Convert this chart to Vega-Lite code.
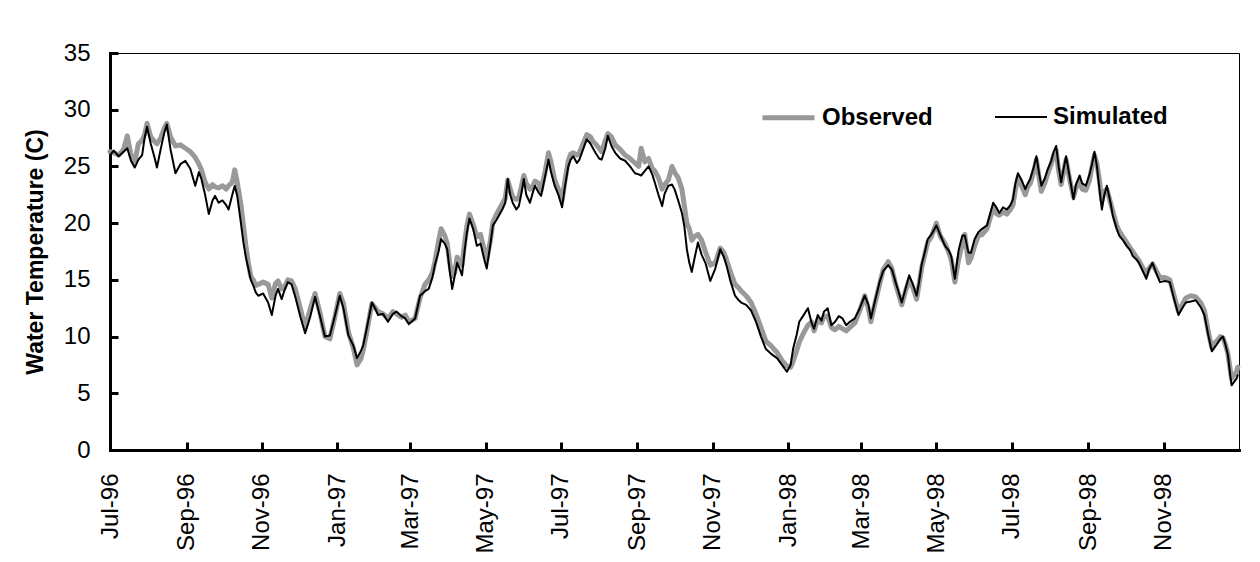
{
  "$schema": "https://vega.github.io/schema/vega-lite/v6.json",
  "width": 1129,
  "height": 397,
  "autosize": "none",
  "padding": {"left": 110, "top": 53, "right": 21, "bottom": 112},
  "background": "white",
  "config": {
    "font": "Liberation Sans",
    "view": {"stroke": "black", "strokeWidth": 1},
    "axis": {"grid": false, "domainColor": "black", "tickColor": "black", "labelColor": "black", "titleColor": "black", "domainCap": "square"}
  },
  "data": {"values": [
    {"d":"1996-07-01","Observed":26.3,"Simulated":26.0},
    {"d":"1996-07-04","Observed":26.2,"Simulated":26.4},
    {"d":"1996-07-08","Observed":26.0,"Simulated":25.9},
    {"d":"1996-07-12","Observed":26.5,"Simulated":26.3},
    {"d":"1996-07-15","Observed":27.7,"Simulated":26.6},
    {"d":"1996-07-18","Observed":26.0,"Simulated":25.5},
    {"d":"1996-07-21","Observed":25.4,"Simulated":24.9},
    {"d":"1996-07-24","Observed":27.0,"Simulated":25.6},
    {"d":"1996-07-27","Observed":27.3,"Simulated":26.0},
    {"d":"1996-07-29","Observed":27.8,"Simulated":27.5},
    {"d":"1996-07-31","Observed":28.8,"Simulated":28.5},
    {"d":"1996-08-03","Observed":27.6,"Simulated":27.0},
    {"d":"1996-08-06","Observed":27.2,"Simulated":25.8},
    {"d":"1996-08-08","Observed":27.0,"Simulated":24.9},
    {"d":"1996-08-11","Observed":27.5,"Simulated":26.5},
    {"d":"1996-08-14","Observed":28.4,"Simulated":28.0},
    {"d":"1996-08-16","Observed":28.8,"Simulated":28.7},
    {"d":"1996-08-19","Observed":27.6,"Simulated":26.5},
    {"d":"1996-08-23","Observed":26.8,"Simulated":24.4},
    {"d":"1996-08-27","Observed":26.9,"Simulated":25.2},
    {"d":"1996-08-31","Observed":26.6,"Simulated":25.5},
    {"d":"1996-09-04","Observed":26.3,"Simulated":24.8},
    {"d":"1996-09-08","Observed":25.8,"Simulated":23.3},
    {"d":"1996-09-11","Observed":25.2,"Simulated":24.5},
    {"d":"1996-09-13","Observed":24.7,"Simulated":23.9},
    {"d":"1996-09-16","Observed":23.6,"Simulated":22.5},
    {"d":"1996-09-19","Observed":23.0,"Simulated":20.8},
    {"d":"1996-09-22","Observed":23.4,"Simulated":22.0},
    {"d":"1996-09-24","Observed":23.2,"Simulated":22.4},
    {"d":"1996-09-27","Observed":23.1,"Simulated":21.8},
    {"d":"1996-09-30","Observed":23.3,"Simulated":22.0},
    {"d":"1996-10-03","Observed":23.0,"Simulated":21.6},
    {"d":"1996-10-05","Observed":23.3,"Simulated":21.2},
    {"d":"1996-10-08","Observed":23.6,"Simulated":22.5},
    {"d":"1996-10-10","Observed":24.7,"Simulated":23.3},
    {"d":"1996-10-12","Observed":23.6,"Simulated":22.4},
    {"d":"1996-10-15","Observed":21.6,"Simulated":20.0},
    {"d":"1996-10-17","Observed":19.8,"Simulated":18.3},
    {"d":"1996-10-19","Observed":18.0,"Simulated":17.0},
    {"d":"1996-10-21","Observed":16.5,"Simulated":16.0},
    {"d":"1996-10-23","Observed":15.3,"Simulated":15.0},
    {"d":"1996-10-25","Observed":15.0,"Simulated":14.5},
    {"d":"1996-10-27","Observed":14.5,"Simulated":13.9},
    {"d":"1996-10-29","Observed":14.6,"Simulated":13.6},
    {"d":"1996-11-02","Observed":14.8,"Simulated":13.8},
    {"d":"1996-11-06","Observed":14.6,"Simulated":13.0},
    {"d":"1996-11-09","Observed":13.4,"Simulated":11.9},
    {"d":"1996-11-12","Observed":14.7,"Simulated":13.6},
    {"d":"1996-11-14","Observed":14.9,"Simulated":14.2},
    {"d":"1996-11-17","Observed":14.2,"Simulated":13.3},
    {"d":"1996-11-19","Observed":14.3,"Simulated":14.0},
    {"d":"1996-11-22","Observed":15.0,"Simulated":14.8},
    {"d":"1996-11-25","Observed":14.9,"Simulated":14.6},
    {"d":"1996-11-28","Observed":14.2,"Simulated":13.5},
    {"d":"1996-12-02","Observed":12.5,"Simulated":11.8},
    {"d":"1996-12-06","Observed":10.8,"Simulated":10.3},
    {"d":"1996-12-10","Observed":12.4,"Simulated":11.7},
    {"d":"1996-12-14","Observed":13.8,"Simulated":13.5},
    {"d":"1996-12-18","Observed":12.1,"Simulated":11.8},
    {"d":"1996-12-22","Observed":10.0,"Simulated":10.0},
    {"d":"1996-12-26","Observed":9.8,"Simulated":10.1},
    {"d":"1996-12-30","Observed":11.7,"Simulated":11.8},
    {"d":"1997-01-03","Observed":13.8,"Simulated":13.6},
    {"d":"1997-01-06","Observed":12.9,"Simulated":12.5},
    {"d":"1997-01-10","Observed":10.4,"Simulated":10.1},
    {"d":"1997-01-14","Observed":9.0,"Simulated":9.2},
    {"d":"1997-01-17","Observed":7.5,"Simulated":8.1},
    {"d":"1997-01-20","Observed":8.0,"Simulated":8.7},
    {"d":"1997-01-22","Observed":8.8,"Simulated":9.2},
    {"d":"1997-01-25","Observed":10.5,"Simulated":10.8},
    {"d":"1997-01-29","Observed":12.9,"Simulated":13.0},
    {"d":"1997-02-01","Observed":12.5,"Simulated":12.4},
    {"d":"1997-02-03","Observed":12.2,"Simulated":11.9},
    {"d":"1997-02-07","Observed":12.0,"Simulated":12.0},
    {"d":"1997-02-11","Observed":11.6,"Simulated":11.3},
    {"d":"1997-02-15","Observed":12.2,"Simulated":12.0},
    {"d":"1997-02-18","Observed":12.0,"Simulated":12.2},
    {"d":"1997-02-22","Observed":11.7,"Simulated":11.8},
    {"d":"1997-02-25","Observed":11.9,"Simulated":11.6},
    {"d":"1997-02-28","Observed":11.3,"Simulated":11.1},
    {"d":"1997-03-05","Observed":11.6,"Simulated":11.6},
    {"d":"1997-03-09","Observed":13.4,"Simulated":13.6},
    {"d":"1997-03-13","Observed":14.6,"Simulated":14.0},
    {"d":"1997-03-16","Observed":15.0,"Simulated":14.2},
    {"d":"1997-03-19","Observed":15.6,"Simulated":15.2},
    {"d":"1997-03-21","Observed":16.6,"Simulated":16.3},
    {"d":"1997-03-24","Observed":18.4,"Simulated":17.5},
    {"d":"1997-03-26","Observed":19.5,"Simulated":18.6},
    {"d":"1997-03-29","Observed":18.9,"Simulated":18.2},
    {"d":"1997-03-31","Observed":18.2,"Simulated":17.7},
    {"d":"1997-04-02","Observed":16.5,"Simulated":15.8},
    {"d":"1997-04-04","Observed":15.3,"Simulated":14.2},
    {"d":"1997-04-06","Observed":15.6,"Simulated":15.3},
    {"d":"1997-04-08","Observed":17.0,"Simulated":16.5},
    {"d":"1997-04-10","Observed":16.6,"Simulated":16.0},
    {"d":"1997-04-12","Observed":16.3,"Simulated":15.4},
    {"d":"1997-04-14","Observed":18.2,"Simulated":17.5},
    {"d":"1997-04-16","Observed":19.8,"Simulated":19.2},
    {"d":"1997-04-18","Observed":20.8,"Simulated":20.4},
    {"d":"1997-04-21","Observed":19.9,"Simulated":19.5},
    {"d":"1997-04-24","Observed":18.8,"Simulated":18.0},
    {"d":"1997-04-27","Observed":19.0,"Simulated":18.2},
    {"d":"1997-04-30","Observed":17.6,"Simulated":16.8},
    {"d":"1997-05-02","Observed":16.8,"Simulated":16.0},
    {"d":"1997-05-05","Observed":18.5,"Simulated":18.2},
    {"d":"1997-05-07","Observed":20.1,"Simulated":19.8},
    {"d":"1997-05-10","Observed":20.8,"Simulated":20.3},
    {"d":"1997-05-13","Observed":21.4,"Simulated":20.9},
    {"d":"1997-05-15","Observed":21.8,"Simulated":21.3},
    {"d":"1997-05-17","Observed":22.2,"Simulated":21.8},
    {"d":"1997-05-19","Observed":23.8,"Simulated":23.9},
    {"d":"1997-05-21","Observed":23.0,"Simulated":22.5},
    {"d":"1997-05-23","Observed":22.3,"Simulated":21.8},
    {"d":"1997-05-26","Observed":22.1,"Simulated":21.2},
    {"d":"1997-05-28","Observed":22.3,"Simulated":21.5},
    {"d":"1997-05-30","Observed":23.2,"Simulated":22.6},
    {"d":"1997-06-01","Observed":24.2,"Simulated":23.9},
    {"d":"1997-06-03","Observed":23.5,"Simulated":22.5},
    {"d":"1997-06-06","Observed":23.0,"Simulated":21.8},
    {"d":"1997-06-08","Observed":23.2,"Simulated":22.6},
    {"d":"1997-06-10","Observed":23.7,"Simulated":23.3},
    {"d":"1997-06-13","Observed":23.5,"Simulated":22.7},
    {"d":"1997-06-15","Observed":22.9,"Simulated":22.4},
    {"d":"1997-06-18","Observed":24.4,"Simulated":24.0},
    {"d":"1997-06-21","Observed":26.2,"Simulated":25.6},
    {"d":"1997-06-23","Observed":25.4,"Simulated":24.5},
    {"d":"1997-06-26","Observed":23.8,"Simulated":23.3},
    {"d":"1997-06-29","Observed":23.0,"Simulated":22.5},
    {"d":"1997-07-02","Observed":22.0,"Simulated":21.4},
    {"d":"1997-07-04","Observed":23.5,"Simulated":23.0},
    {"d":"1997-07-07","Observed":25.5,"Simulated":25.0},
    {"d":"1997-07-09","Observed":26.1,"Simulated":25.6},
    {"d":"1997-07-11","Observed":26.2,"Simulated":25.9},
    {"d":"1997-07-14","Observed":26.0,"Simulated":25.3},
    {"d":"1997-07-16","Observed":26.2,"Simulated":25.6},
    {"d":"1997-07-19","Observed":27.0,"Simulated":26.5},
    {"d":"1997-07-22","Observed":27.8,"Simulated":27.4},
    {"d":"1997-07-25","Observed":27.6,"Simulated":27.0},
    {"d":"1997-07-27","Observed":27.2,"Simulated":26.6},
    {"d":"1997-07-29","Observed":27.0,"Simulated":26.2},
    {"d":"1997-08-01","Observed":26.6,"Simulated":25.7},
    {"d":"1997-08-03","Observed":26.3,"Simulated":25.6},
    {"d":"1997-08-06","Observed":27.3,"Simulated":26.6},
    {"d":"1997-08-08","Observed":27.9,"Simulated":27.7},
    {"d":"1997-08-11","Observed":27.6,"Simulated":26.8},
    {"d":"1997-08-14","Observed":26.9,"Simulated":26.2},
    {"d":"1997-08-18","Observed":26.5,"Simulated":25.7},
    {"d":"1997-08-22","Observed":26.0,"Simulated":25.5},
    {"d":"1997-08-26","Observed":25.7,"Simulated":25.0},
    {"d":"1997-08-30","Observed":25.3,"Simulated":24.4},
    {"d":"1997-09-02","Observed":25.0,"Simulated":24.3},
    {"d":"1997-09-04","Observed":26.6,"Simulated":24.2},
    {"d":"1997-09-07","Observed":25.4,"Simulated":24.6},
    {"d":"1997-09-10","Observed":25.7,"Simulated":25.0},
    {"d":"1997-09-13","Observed":24.8,"Simulated":24.3},
    {"d":"1997-09-15","Observed":24.6,"Simulated":23.6},
    {"d":"1997-09-18","Observed":24.0,"Simulated":22.5},
    {"d":"1997-09-21","Observed":23.0,"Simulated":21.5},
    {"d":"1997-09-23","Observed":23.4,"Simulated":22.6},
    {"d":"1997-09-26","Observed":23.8,"Simulated":23.3},
    {"d":"1997-09-29","Observed":25.0,"Simulated":23.4},
    {"d":"1997-10-01","Observed":24.5,"Simulated":23.0},
    {"d":"1997-10-04","Observed":24.0,"Simulated":22.0},
    {"d":"1997-10-07","Observed":23.0,"Simulated":20.9},
    {"d":"1997-10-09","Observed":21.5,"Simulated":19.7},
    {"d":"1997-10-11","Observed":20.0,"Simulated":17.7},
    {"d":"1997-10-13","Observed":19.5,"Simulated":16.5},
    {"d":"1997-10-15","Observed":18.5,"Simulated":15.7},
    {"d":"1997-10-17","Observed":18.8,"Simulated":16.8},
    {"d":"1997-10-20","Observed":19.0,"Simulated":18.3},
    {"d":"1997-10-23","Observed":18.5,"Simulated":17.2},
    {"d":"1997-10-26","Observed":17.5,"Simulated":16.5},
    {"d":"1997-10-30","Observed":16.3,"Simulated":14.9},
    {"d":"1997-11-03","Observed":16.5,"Simulated":16.0},
    {"d":"1997-11-07","Observed":17.8,"Simulated":17.7},
    {"d":"1997-11-10","Observed":17.4,"Simulated":17.0},
    {"d":"1997-11-12","Observed":16.8,"Simulated":16.3},
    {"d":"1997-11-15","Observed":15.8,"Simulated":15.0},
    {"d":"1997-11-19","Observed":14.6,"Simulated":13.6},
    {"d":"1997-11-22","Observed":14.3,"Simulated":13.2},
    {"d":"1997-11-24","Observed":14.0,"Simulated":13.0},
    {"d":"1997-11-28","Observed":13.6,"Simulated":12.8},
    {"d":"1997-12-02","Observed":13.0,"Simulated":12.3},
    {"d":"1997-12-06","Observed":12.0,"Simulated":11.3},
    {"d":"1997-12-10","Observed":10.8,"Simulated":10.0},
    {"d":"1997-12-14","Observed":9.6,"Simulated":8.9},
    {"d":"1997-12-18","Observed":9.2,"Simulated":8.5},
    {"d":"1997-12-23","Observed":8.6,"Simulated":8.1},
    {"d":"1997-12-27","Observed":7.9,"Simulated":7.5},
    {"d":"1997-12-31","Observed":7.4,"Simulated":6.9},
    {"d":"1998-01-03","Observed":7.3,"Simulated":7.5},
    {"d":"1998-01-05","Observed":7.8,"Simulated":8.9},
    {"d":"1998-01-08","Observed":8.8,"Simulated":10.2},
    {"d":"1998-01-10","Observed":9.5,"Simulated":11.3},
    {"d":"1998-01-13","Observed":10.2,"Simulated":11.8},
    {"d":"1998-01-17","Observed":11.0,"Simulated":12.5},
    {"d":"1998-01-20","Observed":11.3,"Simulated":11.2},
    {"d":"1998-01-22","Observed":10.5,"Simulated":10.7},
    {"d":"1998-01-25","Observed":11.5,"Simulated":11.9},
    {"d":"1998-01-28","Observed":11.2,"Simulated":11.4},
    {"d":"1998-01-30","Observed":11.8,"Simulated":12.2},
    {"d":"1998-02-02","Observed":11.8,"Simulated":12.5},
    {"d":"1998-02-05","Observed":10.8,"Simulated":11.0},
    {"d":"1998-02-08","Observed":10.6,"Simulated":11.3},
    {"d":"1998-02-11","Observed":10.9,"Simulated":11.8},
    {"d":"1998-02-14","Observed":10.7,"Simulated":11.6},
    {"d":"1998-02-17","Observed":10.5,"Simulated":11.0},
    {"d":"1998-02-20","Observed":10.8,"Simulated":11.3},
    {"d":"1998-02-24","Observed":11.2,"Simulated":11.6},
    {"d":"1998-02-28","Observed":12.3,"Simulated":12.5},
    {"d":"1998-03-04","Observed":13.6,"Simulated":13.6},
    {"d":"1998-03-07","Observed":12.4,"Simulated":12.8},
    {"d":"1998-03-09","Observed":11.3,"Simulated":11.6},
    {"d":"1998-03-12","Observed":12.8,"Simulated":13.0},
    {"d":"1998-03-16","Observed":14.6,"Simulated":14.8},
    {"d":"1998-03-19","Observed":15.9,"Simulated":15.8},
    {"d":"1998-03-23","Observed":16.6,"Simulated":16.3},
    {"d":"1998-03-26","Observed":16.0,"Simulated":15.9},
    {"d":"1998-03-29","Observed":14.6,"Simulated":14.8},
    {"d":"1998-04-03","Observed":12.8,"Simulated":13.0},
    {"d":"1998-04-06","Observed":14.0,"Simulated":14.2},
    {"d":"1998-04-09","Observed":15.0,"Simulated":15.4},
    {"d":"1998-04-12","Observed":14.3,"Simulated":14.6},
    {"d":"1998-04-15","Observed":13.3,"Simulated":13.6},
    {"d":"1998-04-17","Observed":14.6,"Simulated":14.8},
    {"d":"1998-04-19","Observed":16.0,"Simulated":16.3},
    {"d":"1998-04-22","Observed":17.4,"Simulated":17.6},
    {"d":"1998-04-24","Observed":18.3,"Simulated":18.6},
    {"d":"1998-04-27","Observed":18.8,"Simulated":19.0},
    {"d":"1998-05-01","Observed":20.0,"Simulated":19.8},
    {"d":"1998-05-04","Observed":18.9,"Simulated":19.0},
    {"d":"1998-05-08","Observed":18.2,"Simulated":18.0},
    {"d":"1998-05-11","Observed":17.4,"Simulated":17.6},
    {"d":"1998-05-13","Observed":16.8,"Simulated":17.1},
    {"d":"1998-05-16","Observed":14.8,"Simulated":15.1},
    {"d":"1998-05-19","Observed":16.8,"Simulated":17.6},
    {"d":"1998-05-22","Observed":18.2,"Simulated":18.9},
    {"d":"1998-05-24","Observed":19.0,"Simulated":18.9},
    {"d":"1998-05-27","Observed":16.5,"Simulated":17.4},
    {"d":"1998-05-29","Observed":16.9,"Simulated":17.4},
    {"d":"1998-06-01","Observed":18.0,"Simulated":18.6},
    {"d":"1998-06-04","Observed":18.9,"Simulated":19.2},
    {"d":"1998-06-07","Observed":19.0,"Simulated":19.5},
    {"d":"1998-06-11","Observed":19.5,"Simulated":19.8},
    {"d":"1998-06-14","Observed":20.6,"Simulated":21.0},
    {"d":"1998-06-16","Observed":21.3,"Simulated":21.8},
    {"d":"1998-06-19","Observed":20.8,"Simulated":21.3},
    {"d":"1998-06-21","Observed":20.7,"Simulated":20.9},
    {"d":"1998-06-24","Observed":21.0,"Simulated":21.4},
    {"d":"1998-06-27","Observed":20.8,"Simulated":21.2},
    {"d":"1998-06-30","Observed":21.2,"Simulated":21.6},
    {"d":"1998-07-02","Observed":21.6,"Simulated":22.1},
    {"d":"1998-07-04","Observed":23.0,"Simulated":23.5},
    {"d":"1998-07-06","Observed":24.0,"Simulated":24.4},
    {"d":"1998-07-09","Observed":23.3,"Simulated":23.8},
    {"d":"1998-07-12","Observed":22.5,"Simulated":23.0},
    {"d":"1998-07-14","Observed":23.2,"Simulated":23.5},
    {"d":"1998-07-16","Observed":23.5,"Simulated":23.9},
    {"d":"1998-07-19","Observed":24.6,"Simulated":25.0},
    {"d":"1998-07-21","Observed":25.6,"Simulated":25.9},
    {"d":"1998-07-23","Observed":24.1,"Simulated":24.5},
    {"d":"1998-07-25","Observed":22.8,"Simulated":23.3},
    {"d":"1998-07-28","Observed":23.6,"Simulated":24.0},
    {"d":"1998-07-30","Observed":24.3,"Simulated":24.7},
    {"d":"1998-08-02","Observed":25.2,"Simulated":25.5},
    {"d":"1998-08-04","Observed":26.0,"Simulated":26.3},
    {"d":"1998-08-06","Observed":26.4,"Simulated":26.8},
    {"d":"1998-08-08","Observed":24.6,"Simulated":25.0},
    {"d":"1998-08-10","Observed":23.4,"Simulated":23.6},
    {"d":"1998-08-12","Observed":24.5,"Simulated":24.8},
    {"d":"1998-08-14","Observed":25.6,"Simulated":25.9},
    {"d":"1998-08-17","Observed":23.8,"Simulated":24.0},
    {"d":"1998-08-20","Observed":22.3,"Simulated":22.1},
    {"d":"1998-08-22","Observed":23.1,"Simulated":23.4},
    {"d":"1998-08-25","Observed":23.8,"Simulated":24.2},
    {"d":"1998-08-27","Observed":23.0,"Simulated":23.5},
    {"d":"1998-08-30","Observed":22.9,"Simulated":23.3},
    {"d":"1998-09-02","Observed":23.8,"Simulated":24.3},
    {"d":"1998-09-04","Observed":25.0,"Simulated":25.2},
    {"d":"1998-09-06","Observed":26.0,"Simulated":26.3},
    {"d":"1998-09-08","Observed":25.2,"Simulated":25.0},
    {"d":"1998-09-10","Observed":23.8,"Simulated":23.0},
    {"d":"1998-09-12","Observed":22.0,"Simulated":21.2},
    {"d":"1998-09-14","Observed":22.8,"Simulated":22.5},
    {"d":"1998-09-16","Observed":23.0,"Simulated":23.3},
    {"d":"1998-09-19","Observed":21.8,"Simulated":21.8},
    {"d":"1998-09-21","Observed":21.0,"Simulated":20.6},
    {"d":"1998-09-24","Observed":19.8,"Simulated":19.5},
    {"d":"1998-09-26","Observed":19.3,"Simulated":18.9},
    {"d":"1998-09-29","Observed":18.8,"Simulated":18.5},
    {"d":"1998-10-02","Observed":18.3,"Simulated":18.0},
    {"d":"1998-10-05","Observed":17.8,"Simulated":17.6},
    {"d":"1998-10-07","Observed":17.5,"Simulated":17.1},
    {"d":"1998-10-10","Observed":17.0,"Simulated":16.8},
    {"d":"1998-10-12","Observed":16.7,"Simulated":16.5},
    {"d":"1998-10-15","Observed":16.1,"Simulated":15.8},
    {"d":"1998-10-18","Observed":15.5,"Simulated":15.1},
    {"d":"1998-10-20","Observed":16.0,"Simulated":15.9},
    {"d":"1998-10-23","Observed":16.4,"Simulated":16.5},
    {"d":"1998-10-26","Observed":15.8,"Simulated":15.6},
    {"d":"1998-10-29","Observed":15.2,"Simulated":14.8},
    {"d":"1998-11-02","Observed":15.2,"Simulated":14.9},
    {"d":"1998-11-06","Observed":15.0,"Simulated":14.8},
    {"d":"1998-11-09","Observed":13.8,"Simulated":13.5},
    {"d":"1998-11-13","Observed":12.2,"Simulated":11.9},
    {"d":"1998-11-16","Observed":12.8,"Simulated":12.5},
    {"d":"1998-11-19","Observed":13.4,"Simulated":13.0},
    {"d":"1998-11-23","Observed":13.6,"Simulated":13.1},
    {"d":"1998-11-27","Observed":13.5,"Simulated":13.2},
    {"d":"1998-12-01","Observed":13.0,"Simulated":12.6},
    {"d":"1998-12-04","Observed":12.3,"Simulated":11.9},
    {"d":"1998-12-07","Observed":10.5,"Simulated":10.2},
    {"d":"1998-12-10","Observed":9.0,"Simulated":8.7},
    {"d":"1998-12-12","Observed":9.4,"Simulated":9.0},
    {"d":"1998-12-14","Observed":9.6,"Simulated":9.3},
    {"d":"1998-12-17","Observed":10.0,"Simulated":9.8},
    {"d":"1998-12-19","Observed":9.9,"Simulated":10.0},
    {"d":"1998-12-21","Observed":9.3,"Simulated":9.3},
    {"d":"1998-12-23","Observed":8.5,"Simulated":8.4},
    {"d":"1998-12-25","Observed":7.0,"Simulated":6.5},
    {"d":"1998-12-26","Observed":6.3,"Simulated":5.7},
    {"d":"1998-12-28","Observed":6.6,"Simulated":6.0},
    {"d":"1998-12-30","Observed":6.9,"Simulated":6.3},
    {"d":"1998-12-31","Observed":7.3,"Simulated":6.6}
  ]},
  "transform": [{"fold": ["Observed", "Simulated"], "as": ["series", "temp"]}],
  "mark": {"type": "line", "strokeJoin": "round", "strokeCap": "round"},
  "encoding": {
    "x": {
      "field": "d", "type": "temporal",
      "scale": {"domain": [{"year": 1996, "month": 7, "date": 1}, {"year": 1999, "month": 1, "date": 1}]},
      "axis": {
        "title": null,
        "values": [
          {"year": 1996, "month": 7, "date": 1}, {"year": 1996, "month": 9, "date": 1}, {"year": 1996, "month": 11, "date": 1},
          {"year": 1997, "month": 1, "date": 1}, {"year": 1997, "month": 3, "date": 1}, {"year": 1997, "month": 5, "date": 1},
          {"year": 1997, "month": 7, "date": 1}, {"year": 1997, "month": 9, "date": 1}, {"year": 1997, "month": 11, "date": 1},
          {"year": 1998, "month": 1, "date": 1}, {"year": 1998, "month": 3, "date": 1}, {"year": 1998, "month": 5, "date": 1},
          {"year": 1998, "month": 7, "date": 1}, {"year": 1998, "month": 9, "date": 1}, {"year": 1998, "month": 11, "date": 1}
        ],
        "format": "%b-%y",
        "labelAngle": 270,
        "labelAlign": "right",
        "labelBaseline": "middle",
        "labelFontSize": 24,
        "labelPadding": 31,
        "labelFlush": false,
        "labelOverlap": false,
        "tickSize": -8,
        "tickWidth": 3,
        "domainWidth": 3
      }
    },
    "y": {
      "field": "temp", "type": "quantitative",
      "scale": {"domain": [0, 35], "nice": false},
      "axis": {
        "title": "Water Temperature (C)",
        "titleFontSize": 23,
        "titleFontWeight": "bold",
        "titlePadding": 16,
        "values": [0, 5, 10, 15, 20, 25, 30, 35],
        "labelFontSize": 24,
        "labelPadding": 28,
        "labelFlush": false,
        "tickSize": -8,
        "tickWidth": 3,
        "domainWidth": 3
      }
    },
    "color": {
      "field": "series", "type": "nominal",
      "scale": {"domain": ["Observed", "Simulated"], "range": ["#999999", "#000000"]},
      "legend": {
        "title": null, "orient": "none", "legendX": 650, "legendY": 36, "direction": "horizontal",
        "symbolType": "stroke", "symbolSize": 2704, "labelFontSize": 24, "labelFontWeight": "bold",
        "labelOffset": 5, "columnPadding": 58, "labelColor": "black"
      }
    },
    "strokeWidth": {
      "field": "series", "type": "nominal",
      "scale": {"type": "ordinal", "domain": ["Observed", "Simulated"], "range": [5, 2]},
      "legend": {
        "title": null, "orient": "none", "legendX": 650, "legendY": 36, "direction": "horizontal",
        "symbolType": "stroke", "symbolSize": 2704, "labelFontSize": 24, "labelFontWeight": "bold",
        "labelOffset": 5, "columnPadding": 58, "labelColor": "black"
      }
    }
  }
}
